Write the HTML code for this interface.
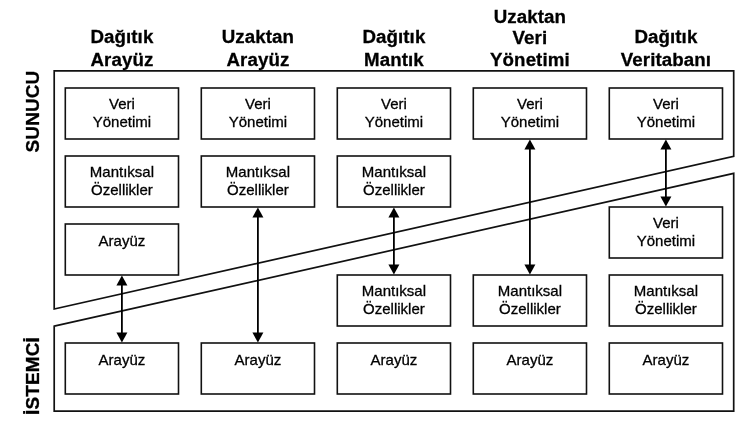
<!DOCTYPE html>
<html lang="tr"><head><meta charset="utf-8"><title>Diagram</title>
<style>
html,body{margin:0;padding:0;background:#fff;}
body{width:756px;height:428px;overflow:hidden;}
svg{display:block;will-change:transform;}
text{font-family:"Liberation Sans",Arial,sans-serif;fill:#000;stroke:#000;stroke-width:0.3px;}
.b{font-size:15px;text-anchor:middle;}
.h{font-size:18.7px;font-weight:bold;text-anchor:middle;letter-spacing:0.1px;}
.s{font-size:19px;}
.box{fill:#fff;stroke:#111;stroke-width:1.6;}
.fr{fill:none;stroke:#111;stroke-width:1.7;stroke-linejoin:miter;}
.ar{stroke:#000;stroke-width:1.8;fill:none;}
.ah{fill:#000;stroke:none;}
</style></head><body>
<svg width="756" height="428" viewBox="0 0 756 428">
<rect width="756" height="428" fill="#fff"/>
<polygon class="fr" points="54.2,70.9 733.7,70.9 733.7,156.3 54.2,309.0"/>
<polygon class="fr" points="54.2,326.2 733.7,173.4 733.7,411.1 54.2,411.1"/>
<rect class="box" x="65.3" y="88" width="113.2" height="51"/>
<text class="b" x="121.9" y="109.4">Veri</text><text class="b" x="121.9" y="126.9">Yönetimi</text>
<rect class="box" x="65.3" y="156" width="113.2" height="51"/>
<text class="b" x="121.9" y="177.4">Mantıksal</text><text class="b" x="121.9" y="194.9">Özellikler</text>
<rect class="box" x="65.3" y="224" width="113.2" height="51"/>
<text class="b" x="121.9" y="245.9">Arayüz</text>
<rect class="box" x="65.3" y="343" width="113.2" height="51"/>
<text class="b" x="121.9" y="364.9">Arayüz</text>
<rect class="box" x="201.3" y="88" width="113.2" height="51"/>
<text class="b" x="257.9" y="109.4">Veri</text><text class="b" x="257.9" y="126.9">Yönetimi</text>
<rect class="box" x="201.3" y="156" width="113.2" height="51"/>
<text class="b" x="257.9" y="177.4">Mantıksal</text><text class="b" x="257.9" y="194.9">Özellikler</text>
<rect class="box" x="201.3" y="343" width="113.2" height="51"/>
<text class="b" x="257.9" y="364.9">Arayüz</text>
<rect class="box" x="337.3" y="88" width="113.2" height="51"/>
<text class="b" x="393.9" y="109.4">Veri</text><text class="b" x="393.9" y="126.9">Yönetimi</text>
<rect class="box" x="337.3" y="156" width="113.2" height="51"/>
<text class="b" x="393.9" y="177.4">Mantıksal</text><text class="b" x="393.9" y="194.9">Özellikler</text>
<rect class="box" x="337.3" y="275" width="113.2" height="51"/>
<text class="b" x="393.9" y="296.4">Mantıksal</text><text class="b" x="393.9" y="313.9">Özellikler</text>
<rect class="box" x="337.3" y="343" width="113.2" height="51"/>
<text class="b" x="393.9" y="364.9">Arayüz</text>
<rect class="box" x="473.3" y="88" width="113.2" height="51"/>
<text class="b" x="529.9" y="109.4">Veri</text><text class="b" x="529.9" y="126.9">Yönetimi</text>
<rect class="box" x="473.3" y="275" width="113.2" height="51"/>
<text class="b" x="529.9" y="296.4">Mantıksal</text><text class="b" x="529.9" y="313.9">Özellikler</text>
<rect class="box" x="473.3" y="343" width="113.2" height="51"/>
<text class="b" x="529.9" y="364.9">Arayüz</text>
<rect class="box" x="609.3" y="88" width="113.2" height="51"/>
<text class="b" x="665.9" y="109.4">Veri</text><text class="b" x="665.9" y="126.9">Yönetimi</text>
<rect class="box" x="609.3" y="207" width="113.2" height="51"/>
<text class="b" x="665.9" y="228.4">Veri</text><text class="b" x="665.9" y="245.9">Yönetimi</text>
<rect class="box" x="609.3" y="275" width="113.2" height="51"/>
<text class="b" x="665.9" y="296.4">Mantıksal</text><text class="b" x="665.9" y="313.9">Özellikler</text>
<rect class="box" x="609.3" y="343" width="113.2" height="51"/>
<text class="b" x="665.9" y="364.9">Arayüz</text>
<line class="ar" x1="121.9" y1="284.5" x2="121.9" y2="333.5"/><polygon class="ah" points="121.9,275.5 116.4,285.5 127.4,285.5"/><polygon class="ah" points="121.9,342.5 116.4,332.5 127.4,332.5"/>
<line class="ar" x1="257.9" y1="216.5" x2="257.9" y2="333.5"/><polygon class="ah" points="257.9,207.5 252.4,217.5 263.4,217.5"/><polygon class="ah" points="257.9,342.5 252.4,332.5 263.4,332.5"/>
<line class="ar" x1="393.9" y1="216.5" x2="393.9" y2="265.5"/><polygon class="ah" points="393.9,207.5 388.4,217.5 399.4,217.5"/><polygon class="ah" points="393.9,274.5 388.4,264.5 399.4,264.5"/>
<line class="ar" x1="529.9" y1="148.5" x2="529.9" y2="265.5"/><polygon class="ah" points="529.9,139.5 524.4,149.5 535.4,149.5"/><polygon class="ah" points="529.9,274.5 524.4,264.5 535.4,264.5"/>
<line class="ar" x1="665.9" y1="148.5" x2="665.9" y2="197.5"/><polygon class="ah" points="665.9,139.5 660.4,149.5 671.4,149.5"/><polygon class="ah" points="665.9,206.5 660.4,196.5 671.4,196.5"/>
<text class="h" x="121.9" y="43.3">Dağıtık</text><text class="h" x="121.9" y="65.7">Arayüz</text>
<text class="h" x="257.9" y="43.3">Uzaktan</text><text class="h" x="257.9" y="65.7">Arayüz</text>
<text class="h" x="393.9" y="43.3">Dağıtık</text><text class="h" x="393.9" y="65.7">Mantık</text>
<text class="h" x="529.9" y="22.6">Uzaktan</text><text class="h" x="529.9" y="44.2">Veri</text><text class="h" x="529.9" y="65.7">Yönetimi</text>
<text class="h" x="665.9" y="43.3">Dağıtık</text><text class="h" x="665.9" y="65.7">Veritabanı</text>
<text class="h s" transform="translate(39.4,111.5) rotate(-90)" x="0" y="0">SUNUCU</text>
<text class="h s" transform="translate(39.4,376) rotate(-90)" x="0" y="0">İSTEMCİ</text>
</svg>
</body></html>
